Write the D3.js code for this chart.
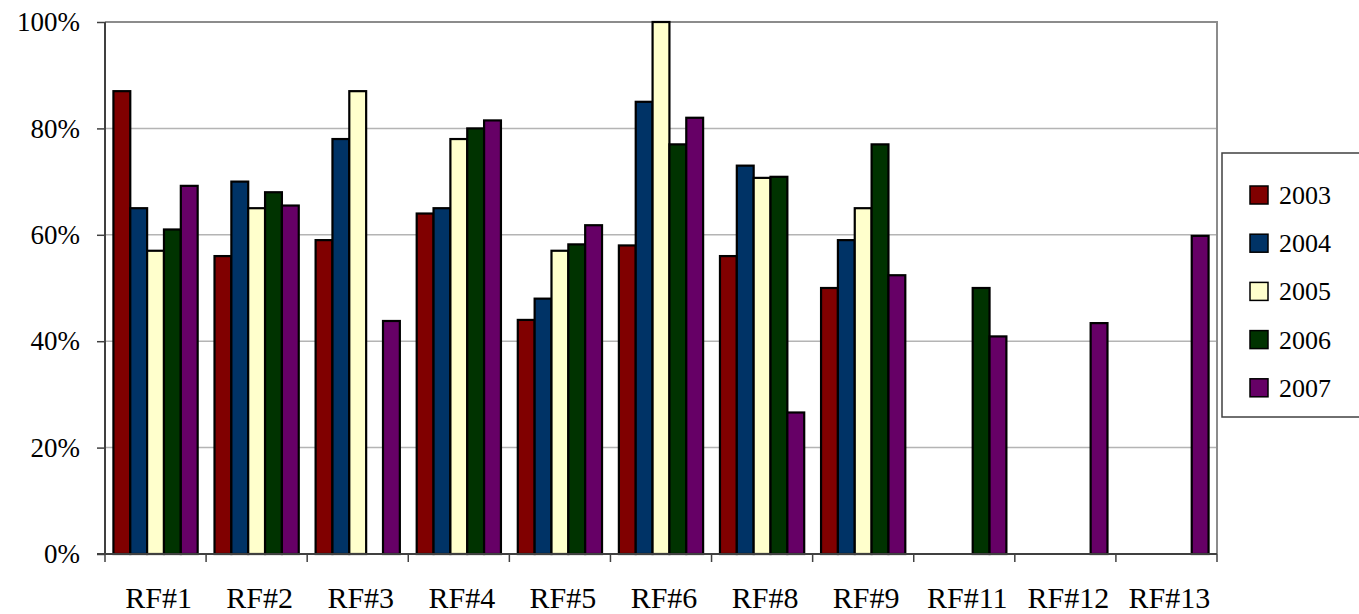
<!DOCTYPE html>
<html>
<head>
<meta charset="utf-8">
<script src="https://cdn.jsdelivr.net/npm/d3@7"></script>
<style>
  body { margin: 0; background: #fff; }
  svg { display: block; font-family: "Liberation Serif", "Times New Roman", serif; }
</style>
</head>
<body>
<div id="chart"></div>
<script>
// Chart data
var categories = ["RF#1", "RF#2", "RF#3", "RF#4", "RF#5", "RF#6", "RF#8", "RF#9", "RF#11", "RF#12", "RF#13"];
var years = ["2003", "2004", "2005", "2006", "2007"];
var v2003 = [87, 56, 59, 64, 44, 58, 56, 50, null, null, null];
var v2004 = [65, 70, 78, 65, 48, 85, 73, 59, null, null, null];
var v2005 = [57, 65, 87, 78, 57, 100, 70.7, 65, null, null, null];
var v2006 = [61, 68, null, 80, 58.2, 77, 70.9, 77, 50, null, null];
var v2007 = [69.2, 65.5, 43.8, 81.5, 61.8, 82, 26.6, 52.4, 40.9, 43.4, 59.8];
var yTicks = [0, 20, 40, 60, 80, 100];
var colors = ["#800000", "#003366", "#ffffcc", "#003300", "#660066"];

var seriesValues = [v2003, v2004, v2005, v2006, v2007];

var svgWidth = 1359;
var svgHeight = 614;
var plot = { left: 105, right: 1217, top: 22, bottom: 554 };

var svg = d3.select("#chart")
  .append("svg")
  .attr("width", svgWidth)
  .attr("height", svgHeight);

// Scales
var x0 = d3.scaleBand()
  .domain(categories)
  .range([plot.left, plot.right])
  .padding(0);

var x1 = d3.scaleBand()
  .domain(years)
  .range([0, x0.bandwidth()])
  .paddingInner(0)
  .paddingOuter(0.5);

var y = d3.scaleLinear()
  .domain([0, 100])
  .range([plot.bottom, plot.top]);

// Gridlines
svg.append("g")
  .selectAll("line")
  .data(yTicks.filter(d => d > 0 && d < 100))
  .enter()
  .append("line")
  .attr("x1", plot.left)
  .attr("x2", plot.right)
  .attr("y1", d => y(d))
  .attr("y2", d => y(d))
  .attr("stroke", "#b4b4b4")
  .attr("stroke-width", 1.5);

// Plot border (top and right)
svg.append("path")
  .attr("d", `M${plot.left},${y(100)}H${plot.right}V${plot.bottom}`)
  .attr("fill", "none")
  .attr("stroke", "#8c8c8c")
  .attr("stroke-width", 2);

// Bars
var rows = [];
years.forEach(function(yr, si) {
  seriesValues[si].forEach(function(v, ci) {
    if (v !== null) rows.push({ year: yr, cat: categories[ci], value: v, color: colors[si] });
  });
});

svg.append("g")
  .selectAll("rect")
  .data(rows)
  .enter()
  .append("rect")
  .attr("x", d => x0(d.cat) + x1(d.year))
  .attr("y", d => y(d.value))
  .attr("width", x1.bandwidth())
  .attr("height", d => y(0) - y(d.value))
  .attr("fill", d => d.color)
  .attr("stroke", "#000")
  .attr("stroke-width", 2.2);

// Y axis
var leftAxis = d3.axisLeft(y)
  .tickValues(yTicks)
  .tickSize(8)
  .tickPadding(17)
  .tickFormat(d => d + "%");

var yAxisG = svg.append("g")
  .attr("transform", `translate(${plot.left},0)`)
  .call(leftAxis);
yAxisG.select(".domain").attr("stroke", "#404040").attr("stroke-width", 2).attr("d", `M0,${plot.top}V${plot.bottom}`);
yAxisG.selectAll(".tick line").attr("stroke", "#404040").attr("stroke-width", 1.5);
yAxisG.selectAll("text")
  .attr("fill", "#000")
  .style("font-family", "\"Liberation Serif\", serif")
  .style("font-size", "27px");

// X axis
var bottomAxis = d3.axisBottom(x0)
  .tickSize(0)
  .tickPadding(42);

var xAxisG = svg.append("g")
  .attr("transform", `translate(0,${plot.bottom})`)
  .call(bottomAxis);
xAxisG.select(".domain").attr("stroke", "#404040").attr("stroke-width", 2).attr("d", `M${plot.left - 8},0H${plot.right}`);
xAxisG.selectAll("text")
  .attr("fill", "#000")
  .attr("dy", "0.4em")
  .attr("dx", "3")
  .style("font-family", "\"Liberation Serif\", serif")
  .style("font-size", "30px");

// Category boundary ticks
svg.append("g")
  .selectAll("line")
  .data(categories.concat(["end"]))
  .enter()
  .append("line")
  .attr("x1", (d, i) => i < categories.length ? x0(d) : plot.right)
  .attr("x2", (d, i) => i < categories.length ? x0(d) : plot.right)
  .attr("y1", plot.bottom)
  .attr("y2", plot.bottom + 8)
  .attr("stroke", "#404040")
  .attr("stroke-width", 1.5);

// Legend
var legend = svg.append("g");
legend.append("rect")
  .attr("x", 1222)
  .attr("y", 153)
  .attr("width", 160)
  .attr("height", 264)
  .attr("fill", "#fff")
  .attr("stroke", "#404040")
  .attr("stroke-width", 1.5);

var legendItems = legend.selectAll(".item")
  .data(years)
  .enter()
  .append("g")
  .attr("class", "item")
  .attr("transform", (d, i) => `translate(1250, ${195 + i * 48.2})`);

legendItems.append("rect")
  .attr("x", 0)
  .attr("y", -9)
  .attr("width", 18)
  .attr("height", 18)
  .attr("fill", (d, i) => colors[i])
  .attr("stroke", "#000")
  .attr("stroke-width", 1.5);

legendItems.append("text")
  .attr("x", 29)
  .attr("y", 9)
  .style("font-size", "26px")
  .text(d => d);
</script>
</body>
</html>
